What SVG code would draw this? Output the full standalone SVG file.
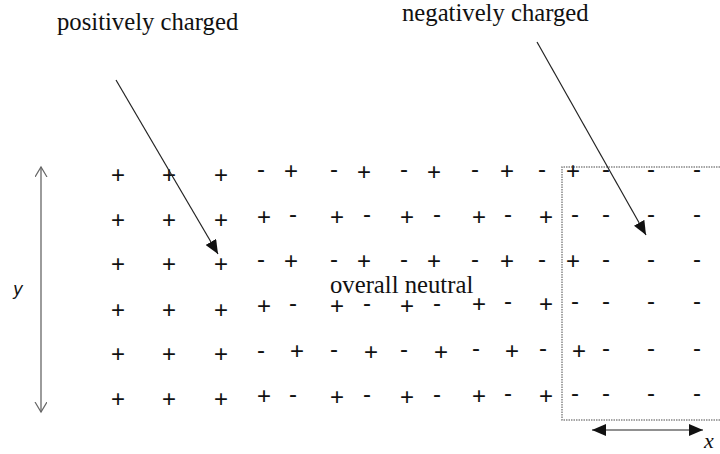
<svg xmlns="http://www.w3.org/2000/svg" width="720" height="454" viewBox="0 0 720 454">
<style>
.lbl{font-family:"Liberation Serif","Times New Roman",serif;font-size:24.7px;fill:#111}
.s{font-family:"Liberation Sans",Arial,sans-serif;font-size:24px;fill:#111;text-anchor:middle}
.ln{stroke:#222;stroke-width:1.2;fill:none}
</style>
<defs>
<marker id="ah" markerUnits="userSpaceOnUse" markerWidth="16" markerHeight="12" refX="14" refY="6" orient="auto-start-reverse">
<path d="M0,0 L14,6 L0,12 Z" fill="#111"/>
</marker>
<marker id="va" markerUnits="userSpaceOnUse" markerWidth="12" markerHeight="14" refX="10" refY="6" orient="auto-start-reverse">
<path d="M0,0 L10,6 L0,12" fill="none" stroke="#666" stroke-width="1.2"/>
</marker>
</defs>
<rect width="720" height="454" fill="#fff"/>

<g id="region-box">
<path d="M725,167 H562 V420 H725" fill="none" stroke="#888" stroke-width="1.5" stroke-dasharray="1.5,1"/>
</g>

<g id="label-positive"><text class="lbl" x="57" y="30">positively charged</text></g>
<g id="label-negative"><text class="lbl" x="402" y="21">negatively charged</text></g>
<g id="label-neutral"><text class="lbl" x="330" y="293">overall neutral</text></g>
<g id="label-y"><text x="13" y="295" font-family="'DejaVu Sans',sans-serif" font-style="italic" font-size="17" fill="#111">y</text></g>
<g id="label-x"><text x="704" y="448" font-family="'Liberation Serif',serif" font-style="italic" font-size="22" fill="#111">x</text></g>

<g id="charges">
<!-- row 1 -->
<text class="s" x="118" y="182.5">+</text><text class="s" x="169" y="182.5">+</text><text class="s" x="221" y="182.5">+</text>
<text class="s" x="261" y="177">-</text><text class="s" x="291" y="179">+</text>
<text class="s" x="334" y="177">-</text><text class="s" x="364" y="179.5">+</text>
<text class="s" x="404" y="177">-</text><text class="s" x="434" y="179.5">+</text>
<text class="s" x="475" y="177">-</text><text class="s" x="507" y="179">+</text>
<text class="s" x="542" y="177">-</text><text class="s" x="573" y="179">+</text>
<text class="s" x="606" y="177">-</text><text class="s" x="651" y="177">-</text><text class="s" x="697" y="177">-</text>
<!-- row 2 -->
<text class="s" x="118" y="227.5">+</text><text class="s" x="169" y="227.5">+</text><text class="s" x="221" y="227.5">+</text>
<text class="s" x="264" y="224.5">+</text><text class="s" x="293" y="222">-</text>
<text class="s" x="337" y="224.5">+</text><text class="s" x="367" y="222">-</text>
<text class="s" x="407" y="224.5">+</text><text class="s" x="437" y="222">-</text>
<text class="s" x="479" y="224.5">+</text><text class="s" x="508" y="222">-</text>
<text class="s" x="546" y="224.5">+</text><text class="s" x="575" y="222">-</text>
<text class="s" x="606" y="222">-</text><text class="s" x="651" y="222">-</text><text class="s" x="697" y="222">-</text>
<!-- row 3 -->
<text class="s" x="118" y="271.5">+</text><text class="s" x="169" y="271.5">+</text><text class="s" x="221" y="271.5">+</text>
<text class="s" x="261" y="266.5">-</text><text class="s" x="291" y="269">+</text>
<text class="s" x="334" y="266.5">-</text><text class="s" x="364" y="269">+</text>
<text class="s" x="404" y="266.5">-</text><text class="s" x="434" y="269">+</text>
<text class="s" x="475" y="266.5">-</text><text class="s" x="507" y="269">+</text>
<text class="s" x="542" y="266.5">-</text><text class="s" x="573" y="269">+</text>
<text class="s" x="606" y="266.5">-</text><text class="s" x="651" y="266.5">-</text><text class="s" x="697" y="266.5">-</text>
<!-- row 4 -->
<text class="s" x="118" y="317.5">+</text><text class="s" x="169" y="317.5">+</text><text class="s" x="221" y="317.5">+</text>
<text class="s" x="264" y="313.5">+</text><text class="s" x="293" y="311">-</text>
<text class="s" x="337" y="313.5">+</text><text class="s" x="367" y="311">-</text>
<text class="s" x="407" y="313.5">+</text><text class="s" x="437" y="311">-</text>
<text class="s" x="479" y="311.5">+</text><text class="s" x="508" y="309">-</text>
<text class="s" x="546" y="311.5">+</text><text class="s" x="575" y="309">-</text>
<text class="s" x="606" y="309">-</text><text class="s" x="651" y="309">-</text><text class="s" x="697" y="309">-</text>
<!-- row 5 -->
<text class="s" x="118" y="361.5">+</text><text class="s" x="169" y="361.5">+</text><text class="s" x="221" y="361.5">+</text>
<text class="s" x="261" y="357.5">-</text><text class="s" x="297" y="359">+</text>
<text class="s" x="334" y="357">-</text><text class="s" x="371" y="359.5">+</text>
<text class="s" x="404" y="357">-</text><text class="s" x="441" y="359.5">+</text>
<text class="s" x="476" y="356">-</text><text class="s" x="512" y="358.5">+</text>
<text class="s" x="543" y="356">-</text><text class="s" x="579" y="358.5">+</text>
<text class="s" x="606" y="356">-</text><text class="s" x="651" y="356">-</text><text class="s" x="697" y="356">-</text>
<!-- row 6 -->
<text class="s" x="118" y="406.5">+</text><text class="s" x="169" y="406.5">+</text><text class="s" x="221" y="406.5">+</text>
<text class="s" x="264" y="404">+</text><text class="s" x="293" y="401.5">-</text>
<text class="s" x="337" y="404.5">+</text><text class="s" x="367" y="402">-</text>
<text class="s" x="407" y="404.5">+</text><text class="s" x="437" y="402">-</text>
<text class="s" x="479" y="403.5">+</text><text class="s" x="508" y="401">-</text>
<text class="s" x="546" y="403.5">+</text><text class="s" x="575" y="401">-</text>
<text class="s" x="606" y="401">-</text><text class="s" x="651" y="401">-</text><text class="s" x="697" y="401">-</text>
</g>

<g id="connectors">
<line class="ln" x1="116" y1="80" x2="218" y2="254" marker-end="url(#ah)"/>
<line class="ln" x1="537" y1="42" x2="646" y2="235" marker-end="url(#ah)"/>
<line x1="41" y1="167" x2="41" y2="412" stroke="#666" stroke-width="1.3" marker-start="url(#va)" marker-end="url(#va)"/>
<line class="ln" x1="592" y1="430" x2="703" y2="430" marker-start="url(#ah)" marker-end="url(#ah)"/>
</g>
</svg>
